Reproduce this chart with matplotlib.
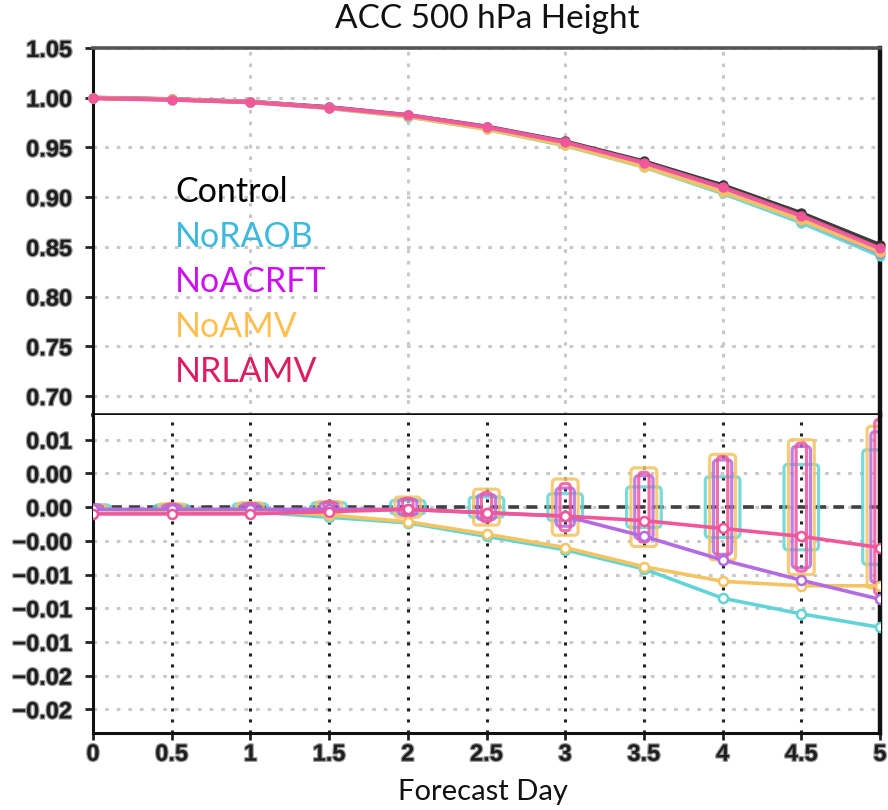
import matplotlib
matplotlib.use("Agg")
import matplotlib.pyplot as plt
from matplotlib.patches import FancyBboxPatch
import matplotlib.patheffects as pe
import numpy as np

# ---------------- data ----------------
days = [0, 0.5, 1, 1.5, 2, 2.5, 3, 3.5, 4, 4.5, 5]
series_names = ["Control", "NoRAOB", "NoACRFT", "NoAMV", "NRLAMV"]

acc_control = [1.000, 0.9985, 0.9960, 0.9905, 0.9825, 0.9710, 0.9560, 0.9360, 0.9120, 0.8840, 0.8520]
acc_noraob  = [0.9998, 0.9983, 0.9957, 0.9895, 0.9810, 0.9685, 0.9520, 0.9305, 0.9040, 0.8745, 0.8410]
acc_noacrft = [0.9998, 0.9983, 0.9958, 0.9902, 0.9822, 0.9705, 0.9552, 0.9335, 0.9075, 0.8775, 0.8440]
acc_noamv   = [0.9998, 0.9983, 0.9957, 0.9897, 0.9812, 0.9686, 0.9524, 0.9307, 0.9054, 0.8770, 0.8450]
acc_nrlamv  = [0.9995, 0.9980, 0.9955, 0.9900, 0.9825, 0.9705, 0.9552, 0.9348, 0.9100, 0.8815, 0.8485]

diff_noraob  = [-0.0002, -0.0003, -0.0004, -0.0009, -0.0014, -0.0026, -0.0038, -0.0055, -0.0081, -0.0095, -0.0107]
diff_noacrft = [-0.0002, -0.0002, -0.0002, -0.0002, -0.0002, -0.0005, -0.0008, -0.0026, -0.0047, -0.0065, -0.0082]
diff_noamv   = [-0.0002, -0.0003, -0.0003, -0.0007, -0.0013, -0.0024, -0.0036, -0.0053, -0.0066, -0.0070, -0.0070]
diff_nrlamv  = [-0.0006, -0.0006, -0.0006, -0.0004, -0.0002, -0.0005, -0.0008, -0.0012, -0.0019, -0.0026, -0.0036]

# significance half-widths (boxes centred on zero)
ci_noraob  = [0.0002, 0.0002, 0.0003, 0.0004, 0.0006, 0.0009, 0.0012, 0.0018, 0.0027, 0.0038, 0.0051]
ci_noacrft = [0.0002, 0.0002, 0.0003, 0.0004, 0.0007, 0.0011, 0.0017, 0.0028, 0.0042, 0.0054, 0.0067]
ci_noamv   = [0.0002, 0.0003, 0.0004, 0.0005, 0.0009, 0.0016, 0.0025, 0.0035, 0.0047, 0.0060, 0.0072]
ci_nrlamv  = [0.0002, 0.0003, 0.0003, 0.0005, 0.0008, 0.0013, 0.0021, 0.0031, 0.0045, 0.0057, 0.0078]

top_yticks = [0.70, 0.75, 0.80, 0.85, 0.90, 0.95, 1.00, 1.05]
top_yticklabels = ["0.70", "0.75", "0.80", "0.85", "0.90", "0.95", "1.00", "1.05"]
bot_yticks = [0.006, 0.003, 0.0, -0.003, -0.006, -0.009, -0.012, -0.015, -0.018]
bot_yticklabels = ["0.01", "0.00", "0.00", "\u22120.00", "\u22120.01", "\u22120.01", "\u22120.01", "\u22120.02", "\u22120.02"]
xticks = [0, 0.5, 1, 1.5, 2, 2.5, 3, 3.5, 4, 4.5, 5]
xticklabels = ["0", "0.5", "1", "1.5", "2", "2.5", "3", "3.5", "4", "4.5", "5"]

# ---------------- style ----------------
line_colors = {"Control": "#303030", "NoRAOB": "#62d4d6", "NoACRFT": "#b46ae0",
               "NoAMV": "#f4c462", "NRLAMV": "#f0579a"}
legend_colors = {"Control": "#000000", "NoRAOB": "#3db9dd", "NoACRFT": "#cc10f0",
                 "NoAMV": "#ffbf4f", "NRLAMV": "#dc1d62"}
box_halfwidth = {"NoRAOB": 0.11, "NoAMV": 0.082, "NoACRFT": 0.058, "NRLAMV": 0.033}

W, H = 888, 810
fig = plt.figure(figsize=(W / 100, H / 100), dpi=100)
L, R = 93 / W, 880 / W
y_top, y_mid, y_bot = 1 - 48 / H, 1 - 415 / H, 1 - 733 / H
ax1 = fig.add_axes([L, y_mid, R - L, y_top - y_mid])
ax2 = fig.add_axes([L, y_bot, R - L, y_mid - y_bot])

tick_font = dict(family=["Liberation Sans", "DejaVu Sans"], weight="bold", size=17)
halo = [pe.withStroke(linewidth=1.8, foreground="#9a9a9a")]
grid_gray = "#c9c9c9"

# ---- top panel ----
top_data = {"Control": acc_control, "NoRAOB": acc_noraob, "NoACRFT": acc_noacrft,
            "NoAMV": acc_noamv, "NRLAMV": acc_nrlamv}
for yv in top_yticks:
    ax1.axhline(yv, color=grid_gray, lw=2.2, ls=(0, (1.2, 2.6)), zorder=0)
for xv in [1, 2, 3, 4]:
    ax1.axvline(xv, color=grid_gray, lw=2.2, ls=(0, (1.2, 2.6)), zorder=0)
for name in series_names:
    ax1.plot(days, top_data[name], color=line_colors[name], lw=3.0,
             marker="o", ms=6.5, mec=line_colors[name], mfc=line_colors[name],
             alpha=0.95, zorder=3, clip_on=False)
ax1.set_xlim(0, 5)
ax1.set_ylim(0.681, 1.05)
ax1.set_yticks(top_yticks)
ax1.set_yticklabels(top_yticklabels, **tick_font, color="#1e1e1e", path_effects=halo)
ax1.set_xticks(xticks)
ax1.tick_params(axis="x", labelbottom=False, length=0)
ax1.tick_params(axis="y", direction="out", length=6, width=2, pad=9, color="#222")

# ---- bottom panel ----
diff_data = {"NoRAOB": diff_noraob, "NoACRFT": diff_noacrft, "NoAMV": diff_noamv, "NRLAMV": diff_nrlamv}
ci_data = {"NoRAOB": ci_noraob, "NoACRFT": ci_noacrft, "NoAMV": ci_noamv, "NRLAMV": ci_nrlamv}
for yv in bot_yticks:
    ax2.axhline(yv, color=grid_gray, lw=2.2, ls=(0, (1.2, 2.6)), zorder=0)
for xv in xticks[1:-1]:
    ax2.axvline(xv, color="#222222", lw=2.2, ls=(0, (1.0, 2.6)), zorder=1)
ax2.axhline(0, color="#404040", lw=2.6, ls=(0, (3, 2)), zorder=1)

ax2.set_xlim(0, 5)
ax2.set_ylim(-0.0201, 0.0082)
# aspect for rounded corners (data-y per pixel / data-x per pixel)
px_per_day = (880 - 93) / 5.0
px_per_y = (733 - 415) / (0.0082 + 0.0201)
asp = (1 / px_per_y) / (1 / px_per_day)
for name in ["NoRAOB", "NoAMV", "NoACRFT", "NRLAMV"]:
    hw = box_halfwidth[name]
    for d, c in zip(days, ci_data[name]):
        p = FancyBboxPatch((d - hw, -c), 2 * hw, 2 * c,
                           boxstyle="round,pad=0,rounding_size=0.025",
                           mutation_aspect=asp, fill=False,
                           ec=line_colors[name], lw=2.3, alpha=0.85, zorder=2)
        ax2.add_patch(p)
for name in ["NoRAOB", "NoAMV", "NoACRFT", "NRLAMV"]:
    ax2.plot(days, diff_data[name], color=line_colors[name], lw=2.6,
             marker="o", ms=6.5, mec=line_colors[name], mfc="white", mew=1.8,
             zorder=4, clip_on=True)

ax2.set_yticks(bot_yticks)
ax2.set_yticklabels(bot_yticklabels, **tick_font, color="#1e1e1e", path_effects=halo)
ax2.set_xticks(xticks)
ax2.set_xticklabels(xticklabels, **tick_font, color="#1e1e1e", path_effects=halo)
ax2.tick_params(axis="y", direction="out", length=6, width=2, pad=9, color="#222")
ax2.tick_params(axis="x", direction="out", length=5, width=2, pad=2, color="#222")

for ax in (ax1, ax2):
    for s in ["left", "bottom", "right"]:
        ax.spines[s].set_color("#111111")
        ax.spines[s].set_linewidth(2.2)
    ax.spines["right"].set_linewidth(3.2)
ax1.spines["top"].set_color("#555555")
ax1.spines["top"].set_linewidth(2.6)
ax1.spines["top"].set_linestyle((0, (2, 1)))
ax2.spines["top"].set_visible(False)
ax1.spines["bottom"].set_linewidth(2.6)

# ---- text ----
text_font = ["Lato", "DejaVu Sans"]
fig.text(487 / W, 1 - 19 / H, "ACC 500 hPa Height", ha="center", va="center",
         family=text_font, fontsize=24, color="#111111")
fig.text(483 / W, 1 - 792 / H, "Forecast Day", ha="center", va="center",
         family=text_font, fontsize=21, color="#111111")
for i, name in enumerate(series_names):
    fig.text(175 / W, 1 - (202 + 45 * i) / H, name, ha="left", va="baseline",
             family=text_font, fontsize=24.5, color=legend_colors[name])

fig.savefig("out.png", dpi=100)
